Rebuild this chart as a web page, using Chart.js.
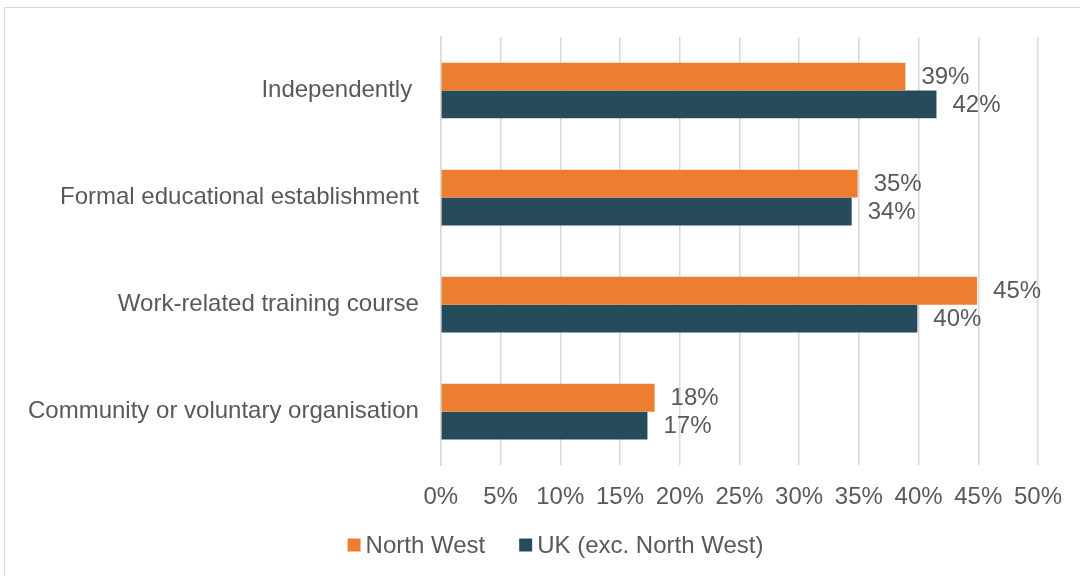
<!DOCTYPE html>
<html>
<head>
<meta charset="utf-8">
<script src="https://cdn.jsdelivr.net/npm/chart.js@4"></script>
<style>
  html, body { margin: 0; padding: 0; background: #fff; overflow: hidden; }
  #box {
    position: absolute; left: 4px; top: 7px; width: 1080px; height: 575px;
    border: 1px solid #d9d9d9; box-sizing: border-box;
  }
  #wrap { position: absolute; left: 0; top: 0; width: 1075px; height: 568px; }
</style>
</head>
<body>
<div id="box"><div id="wrap"><canvas id="learnChart"></canvas></div></div>
<script>
// where people learned - North West vs rest of UK

const categories = [
  "Independently ",
  "Formal educational establishment",
  "Work-related training course",
  "Community or voluntary organisation"
];
const northWest = [38.9, 34.9, 44.9, 17.9];
const restOfUk = [41.5, 34.4, 39.9, 17.3];
const xTicks = [0, 5, 10, 15, 20, 25, 30, 35, 40, 45, 50];

const textGrey = "#595959";
const fontStr = "24px 'Liberation Sans', Arial, sans-serif";
Chart.defaults.font.family = "'Liberation Sans', Arial, sans-serif";
Chart.defaults.font.size = 24;
Chart.defaults.color = textGrey;

// value labels at the end of each bar
const barLabels = {
  id: "barLabels",
  afterDatasetsDraw(chart) {
    const ctx = chart.ctx;
    ctx.save();
    ctx.font = fontStr;
    ctx.fillStyle = textGrey;
    ctx.textBaseline = "middle";
    ctx.textAlign = "left";
    chart.data.datasets.forEach((ds, i) => {
      chart.getDatasetMeta(i).data.forEach((bar, j) => {
        ctx.fillText(Math.round(ds.data[j]) + "%", bar.x + 16, bar.y + 1);
      });
    });
    ctx.restore();
  }
};

// small legend under the axis, square swatches close to the text
const bottomLegend = {
  id: "bottomLegend",
  afterDraw(chart) {
    const ctx = chart.ctx;
    const sets = chart.data.datasets;
    const box = 13, gap = 5, between = 34;
    ctx.save();
    ctx.font = fontStr;
    let total = 0;
    sets.forEach((ds, i) => {
      total += box + gap + ctx.measureText(ds.label).width + (i ? between : 0);
    });
    let x = chart.width / 2 + 13 - total / 2;
    const y = chart.height - 31;
    ctx.textBaseline = "middle";
    sets.forEach((ds, i) => {
      if (i) x += between;
      ctx.fillStyle = ds.backgroundColor;
      ctx.fillRect(x, y - box / 2, box, box);
      x += box + gap;
      ctx.fillStyle = textGrey;
      ctx.fillText(ds.label, x, y + 1);
      x += ctx.measureText(ds.label).width;
    });
    ctx.restore();
  }
};

new Chart(document.getElementById("learnChart").getContext("2d"), {
  type: "bar",
  data: {
    labels: categories,
    datasets: [
      {
        label: "North West",
        data: northWest,
        backgroundColor: "#ED7D31",
        categoryPercentage: 0.52,
        barPercentage: 1.0
      },
      {
        label: "UK (exc. North West)",
        data: restOfUk,
        backgroundColor: "#264C5B",
        categoryPercentage: 0.52,
        barPercentage: 1.0
      }
    ]
  },
  options: {
    indexAxis: "y",
    responsive: true,
    maintainAspectRatio: false,
    animation: false,
    layout: { padding: { left: 1, right: 36, top: 29, bottom: 46 } },
    plugins: {
      legend: { display: false },
      tooltip: { enabled: false }
    },
    scales: {
      x: {
        min: 0,
        max: 50,
        afterBuildTicks: axis => { axis.ticks = xTicks.map(v => ({ value: v })); },
        ticks: { callback: v => v + "%", padding: 18 },
        grid: { color: "#d9d9d9", lineWidth: 1.5, drawTicks: false },
        border: { display: false }
      },
      y: {
        ticks: { padding: 22 },
        grid: { display: false, drawTicks: false },
        border: { color: "#d9d9d9", width: 1.5 },
        afterFit: axis => { axis.paddingTop = 0; axis.paddingBottom = 0; }
      }
    }
  },
  plugins: [barLabels, bottomLegend]
});
</script>
</body>
</html>
